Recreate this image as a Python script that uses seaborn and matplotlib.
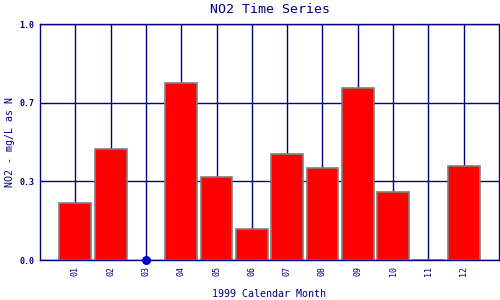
import numpy as np
import pandas as pd
import matplotlib
matplotlib.use("Agg")
import matplotlib.pyplot as plt
import seaborn as sns

months = ["01", "02", "03", "04", "05", "06", "07", "08", "09", "10", "11", "12"]
values = [0.240, 0.469, np.nan, 0.749, 0.350, 0.130, 0.448, 0.389, 0.728, 0.287, 0.0, 0.398]
ytick_vals = [0.0, 1/3, 2/3, 1.0]
ytick_labels = ["0.0", "0.3", "0.7", "1.0"]

NAVY = "#000080"
sns.set_theme(style="white")
plt.rcParams["font.family"] = ["DejaVu Sans Mono", "DejaVu Sans"]

df = pd.DataFrame({"month": months, "value": values})
missing = df[df["value"].isna()].assign(value=0.0)

fig = plt.figure(figsize=(5, 3), dpi=100)
ax = fig.add_axes([0.08, 0.1333, 0.918, 0.7867])

sns.barplot(data=df, x="month", y="value", order=months, color="#FF0000",
            saturation=1, edgecolor="#808080", linewidth=1.2, width=0.9, ax=ax, zorder=2)
sns.stripplot(data=missing, x="month", y="value", order=months, color="#0000CC",
              size=6.5, jitter=False, ax=ax, zorder=4, clip_on=False)

ax.set_xlim(-1, len(months))
ax.set_ylim(0, 1)
ax.set_yticks(ytick_vals)
ax.set_yticklabels(ytick_labels)
ax.set_axisbelow(True)
ax.grid(True, color=NAVY, linewidth=1.0)
for s in ax.spines.values():
    s.set_color(NAVY)
    s.set_linewidth(1.0)
    s.set_visible(True)
ax.tick_params(axis="x", colors=NAVY, labelsize=6, rotation=90, length=0, pad=4)
ax.tick_params(axis="y", colors=NAVY, labelsize=6, length=2, pad=2)
for lab in ax.get_yticklabels():
    lab.set_fontweight("bold")

ax.set_title("NO2 Time Series", color=NAVY, fontsize=9.5, pad=8)
ax.set_xlabel("1999 Calendar Month", color=NAVY, fontsize=7.2, labelpad=9.5)
ax.set_ylabel("NO2 - mg/L as N", color=NAVY, fontsize=7.2, labelpad=3.5)

fig.savefig("out.png", dpi=100)
